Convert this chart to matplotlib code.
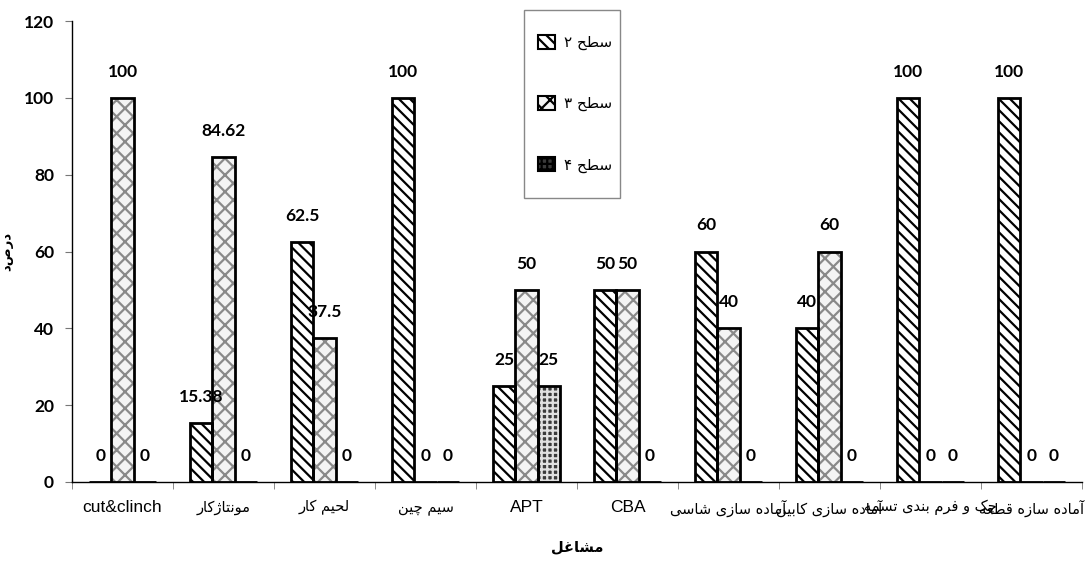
import matplotlib
matplotlib.use("Agg")
import matplotlib.pyplot as plt
import numpy as np

# داده‌ها
categories = ["cut&clinch", "مونتاژکار", "لحیم کار", "سیم چین", "APT", "CBA",
              "آماده سازی شاسی", "آماده سازی کابین", "چک و فرم بندی تسمه",
              "آماده سازه قطعه"]
series_names = ["سطح ۲", "سطح ۳", "سطح ۴"]
level2 = [0, 15.38, 62.5, 100, 25, 50, 60, 40, 100, 100]
level3 = [100, 84.62, 37.5, 0, 50, 50, 40, 60, 0, 0]
level4 = [0, 0, 0, 0, 25, 0, 0, 0, 0, 0]
yticks = [0, 20, 40, 60, 80, 100, 120]
xlabel = "مشاغل"
ylabel = "درصد"

# شکل حروف فارسی (تنها، پایانی، آغازی، میانی) چون matplotlib اتصال حروف را انجام نمی‌دهد
FORMS = {
    'ا': (0xFE8D, 0xFE8E, None, None), 'آ': (0xFE81, 0xFE82, None, None),
    'د': (0xFEA9, 0xFEAA, None, None), 'ر': (0xFEAD, 0xFEAE, None, None),
    'ز': (0xFEAF, 0xFEB0, None, None), 'ژ': (0xFB8A, 0xFB8B, None, None),
    'و': (0xFEED, 0xFEEE, None, None),
    'ب': (0xFE8F, 0xFE90, 0xFE91, 0xFE92), 'پ': (0xFB56, 0xFB57, 0xFB58, 0xFB59),
    'ت': (0xFE95, 0xFE96, 0xFE97, 0xFE98), 'چ': (0xFB7A, 0xFB7B, 0xFB7C, 0xFB7D),
    'ح': (0xFEA1, 0xFEA2, 0xFEA3, 0xFEA4), 'س': (0xFEB1, 0xFEB2, 0xFEB3, 0xFEB4),
    'ش': (0xFEB5, 0xFEB6, 0xFEB7, 0xFEB8), 'ط': (0xFEC1, 0xFEC2, 0xFEC3, 0xFEC4),
    'ع': (0xFEC9, 0xFECA, 0xFECB, 0xFECC), 'غ': (0xFECD, 0xFECE, 0xFECF, 0xFED0),
    'ف': (0xFED1, 0xFED2, 0xFED3, 0xFED4), 'ق': (0xFED5, 0xFED6, 0xFED7, 0xFED8),
    'ک': (0xFB8E, 0xFB8F, 0xFB90, 0xFB91), 'ل': (0xFEDD, 0xFEDE, 0xFEDF, 0xFEE0),
    'م': (0xFEE1, 0xFEE2, 0xFEE3, 0xFEE4), 'ن': (0xFEE5, 0xFEE6, 0xFEE7, 0xFEE8),
    'ه': (0xFEE9, 0xFEEA, 0xFEEB, 0xFEEC), 'ی': (0xFBFC, 0xFBFD, 0xFBFE, 0xFBFF),
}


def fa(text):
    if text.isascii():
        return text
    out = []
    for i, ch in enumerate(text):
        if ch not in FORMS:
            out.append(ch)
            continue
        prev = text[i - 1] if i > 0 else ''
        nxt = text[i + 1] if i + 1 < len(text) else ''
        join_prev = prev in FORMS and FORMS[prev][2] is not None
        join_next = FORMS[ch][2] is not None and nxt in FORMS
        iso, fin, ini, med = FORMS[ch]
        if join_prev and join_next:
            code = med
        elif join_prev:
            code = fin
        elif join_next:
            code = ini
        else:
            code = iso
        out.append(chr(code))
    return ''.join(reversed(out))


plt.rcParams['hatch.linewidth'] = 1.6

W, H = 1085, 561
fig = plt.figure(figsize=(W / 100, H / 100), dpi=100)
ax = fig.add_axes([72 / W, 1 - 482 / H, 1010 / W, 461 / H])

x = np.arange(len(categories))
w = 0.22
styles = [
    dict(facecolor="white", hatch_color="black", hatch="\\\\\\"),
    dict(facecolor="#f4f4f4", hatch_color="#8a8a8a", hatch="xx"),
    dict(facecolor="#3a3a3a", hatch_color="#e0e0e0", hatch="+++"),
]
handles = []
for k, vals in enumerate([level2, level3, level4]):
    st = styles[k]
    pos = x + (k - 1) * w
    ax.bar(pos, vals, w, color=st["facecolor"], edgecolor=st["hatch_color"],
           hatch=st["hatch"], linewidth=0, zorder=2)
    ax.bar(pos, vals, w, fill=False, edgecolor="black", linewidth=2, zorder=3)
    for p, v in zip(pos, vals):
        ax.annotate(f"{v:g}", (p, v), xytext=(0, 13), textcoords="offset points",
                    ha="center", va="bottom", fontsize=12.5, fontweight="bold",
                    family="Lato", zorder=4)
    handles.append(plt.Rectangle((0, 0), 1, 1, facecolor=st["facecolor"],
                                 edgecolor="black", hatch=st["hatch"], linewidth=1.5))

ax.set_xlim(-0.5, len(categories) - 0.5)
ax.set_ylim(0, 120)
ax.set_yticks(yticks)
ax.set_yticklabels([str(t) for t in yticks], fontsize=12.5, fontweight="bold", family="Lato")
ax.set_xticks(x)
ax.set_xticklabels([fa(c) for c in categories])
for lab, c in zip(ax.get_xticklabels(), categories):
    if c.isascii():
        lab.set_family("Liberation Sans")
        lab.set_fontsize(12.5)
    else:
        lab.set_family("DejaVu Sans")
        lab.set_fontsize(10.5)
ax.set_xticks(np.arange(-0.5, len(categories), 1), minor=True)
ax.tick_params(axis="x", which="major", length=0, pad=13)
ax.tick_params(axis="x", which="minor", length=5, color="#777777")
ax.tick_params(axis="y", length=5, color="#777777", pad=8)

for s in ["top", "right"]:
    ax.spines[s].set_visible(False)
ax.spines["left"].set_linewidth(1)
ax.spines["bottom"].set_linewidth(1)

ax.set_xlabel(fa(xlabel), fontsize=10.5, fontweight="bold", family="DejaVu Sans", labelpad=16)
ax.set_ylabel(fa(ylabel), fontsize=9.5, fontweight="bold", family="DejaVu Sans")
ax.yaxis.set_label_coords((13 - 72) / 1010, 0.5)

# کادر راهنما جداگانه رسم می‌شود تا اندازه‌اش مثل تصویر باشد
fig.patches.append(plt.Rectangle((524 / W, 1 - 198 / H), 96 / W, 188 / H,
                                 transform=fig.transFigure, fill=False,
                                 edgecolor="#888888", linewidth=1))
leg = fig.legend(handles, [fa(s) for s in series_names], loc="upper left",
                 bbox_to_anchor=(538 / W, 1 - 35 / H), borderaxespad=0, borderpad=0,
                 prop={"family": "DejaVu Sans", "size": 11},
                 labelspacing=3.0, handlelength=1.1, handleheight=1.0, handletextpad=0.6,
                 frameon=False)

fig.savefig("out.png", dpi=100)
